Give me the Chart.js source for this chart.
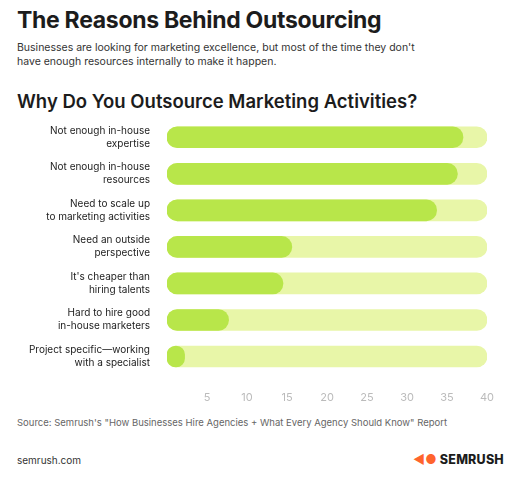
<!DOCTYPE html>
<html><head><meta charset="utf-8">
<script src="https://cdn.jsdelivr.net/npm/chart.js@4"></script>
<style>
body{margin:0;width:516px;height:478px;background:#fff;font-family:Inter,"Noto Sans",sans-serif;color:#1c1c1c;position:relative;overflow:hidden}
.t{position:absolute;left:17px;top:6px;font-size:23px;font-weight:700;letter-spacing:-0.3px}
.s{position:absolute;left:17px;top:41px;font-size:10.5px;line-height:14px;width:470px;color:#333}
.h{position:absolute;left:17px;top:90px;font-size:18.5px;font-weight:600}
.src{position:absolute;left:17px;top:417px;font-size:9.5px;color:#666}
.url{position:absolute;left:17px;top:454px;font-size:10px;color:#333}
.logo{position:absolute;left:413px;top:452px;font-size:12.5px;font-weight:800;letter-spacing:0.2px}
.logo span{color:#ff642d}
#wrap{position:absolute;left:0;top:97px;width:516px;height:315px}
</style></head><body>
<div class="t">The Reasons Behind Outsourcing</div>
<div class="s">Businesses are looking for marketing excellence, but most of the time they don't<br>have enough resources internally to make it happen.</div>
<div class="h">Why Do You Outsource Marketing Activities?</div>
<div id="wrap"><canvas id="c"></canvas></div>
<div class="src">Source: Semrush's "How Businesses Hire Agencies + What Every Agency Should Know" Report</div>
<div class="url">semrush.com</div>
<div class="logo"><span>◀●</span> SEMRUSH</div>
<script>
const categories=[["Not enough in-house","expertise"],["Not enough in-house","resources"],["Need to scale up","to marketing activities"],["Need an outside","perspective"],["It's cheaper than","hiring talents"],["Hard to hire good","in-house marketers"],["Project specific—working","with a specialist"]];
const values=[37,36.3,33.7,15.6,14.5,7.7,2.2];
const trackValues=[40,40,40,40,40,40,40];
const tickValues=[5,10,15,20,25,30,35,40];
new Chart(document.getElementById('c'),{type:'bar',
data:{labels:categories,datasets:[
{data:values,backgroundColor:'#b8e64a',borderRadius:11,borderSkipped:false,barThickness:21,grouped:false,order:0},
{data:trackValues,backgroundColor:'#e8f6a8',borderRadius:11,borderSkipped:false,barThickness:21,grouped:false,order:1}]},
options:{indexAxis:'y',responsive:true,maintainAspectRatio:false,animation:false,
layout:{padding:{right:29,top:0,bottom:0}},
plugins:{legend:{display:false},tooltip:{enabled:false}},
scales:{x:{min:0,max:40,grid:{display:false},border:{display:false},
 afterBuildTicks:a=>{a.ticks=tickValues.map(v=>({value:v}));},
 ticks:{color:'#bbb',font:{size:11,family:'Inter'},padding:8}},
 y:{grid:{display:false},border:{display:false},afterFit:a=>{a.width=167;},
 ticks:{color:'#222',font:{size:10,family:'Inter',lineHeight:1.3},padding:9}}}}});
</script></body></html>
